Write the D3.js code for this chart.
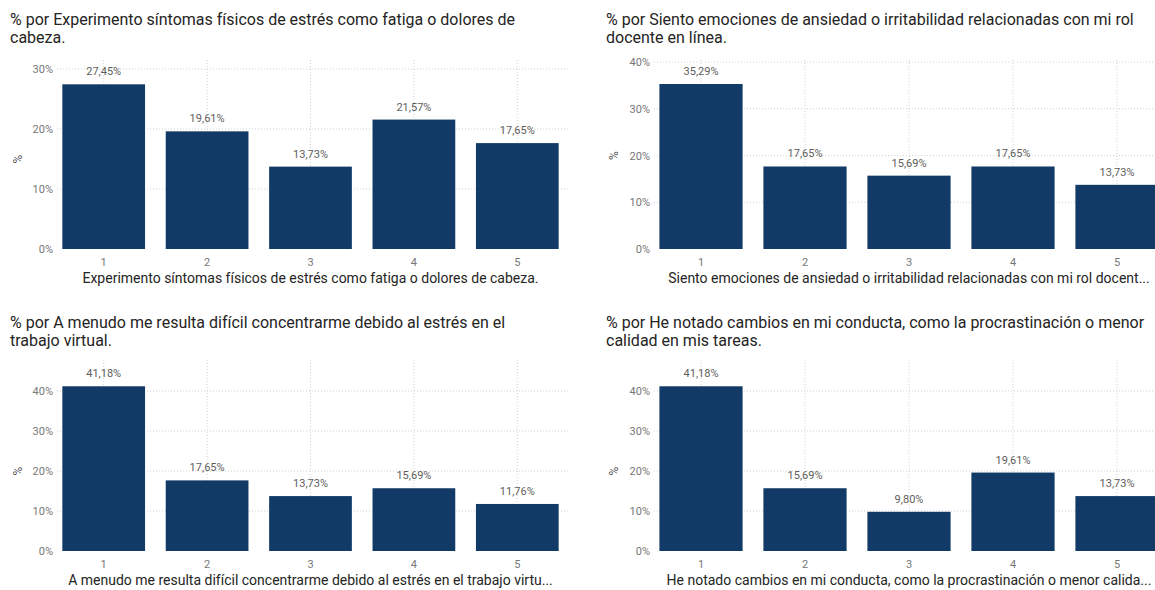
<!DOCTYPE html>
<html>
<head>
<meta charset="utf-8">
<script src="https://cdn.jsdelivr.net/npm/d3@7"></script>
<style>
  body { margin: 0; background: #fff; }
  text { font-family: Roboto, "DejaVu Sans", sans-serif; }
</style>
</head>
<body>
<div id="chart-area"></div>
<script>
// survey answers 1..5, share of respondents in %
const categories = ["1", "2", "3", "4", "5"]

const titleLines1 = ["% por Experimento síntomas físicos de estrés como fatiga o dolores de", "cabeza."]
const titleLines2 = ["% por Siento emociones de ansiedad o irritabilidad relacionadas con mi rol", "docente en línea."]
const titleLines3 = ["% por A menudo me resulta difícil concentrarme debido al estrés en el", "trabajo virtual."]
const titleLines4 = ["% por He notado cambios en mi conducta, como la procrastinación o menor", "calidad en mis tareas."]

const axisTitle1 = "Experimento síntomas físicos de estrés como fatiga o dolores de cabeza."
const axisTitle2 = "Siento emociones de ansiedad o irritabilidad relacionadas con mi rol docente en línea."
const axisTitle3 = "A menudo me resulta difícil concentrarme debido al estrés en el trabajo virtual."
const axisTitle4 = "He notado cambios en mi conducta, como la procrastinación o menor calidad en mis tareas."

const values1 = [27.45, 19.61, 13.73, 21.57, 17.65]
const values2 = [35.29, 17.65, 15.69, 17.65, 13.73]
const values3 = [41.18, 17.65, 13.73, 15.69, 11.76]
const values4 = [41.18, 15.69, 9.80, 19.61, 13.73]

const yTicks1 = [0, 10, 20, 30]
const yTicks2 = [0, 10, 20, 30, 40]
const yTicks3 = [0, 10, 20, 30, 40]
const yTicks4 = [0, 10, 20, 30, 40]

const BAR = "#123a66"
const GRID = "#d0d0d0"

const svg = d3.select("#chart-area")
    .append("svg")
    .attr("width", 1155)
    .attr("height", 590)

const fmt = v => d3.format(".2f")(v).replace(".", ",") + "%"

const panels = [
    { title: titleLines1, axisTitle: axisTitle1, values: values1, ticks: yTicks1,
      x0: 52, x1: 569, top: 60, y0: 249, yTopPx: 69, titleX: 10, titleY: 25 },
    { title: titleLines2, axisTitle: axisTitle2, values: values2, ticks: yTicks2,
      x0: 649, x1: 1169, top: 60, y0: 249, yTopPx: 62, titleX: 606, titleY: 25 },
    { title: titleLines3, axisTitle: axisTitle3, values: values3, ticks: yTicks3,
      x0: 52, x1: 569, top: 360, y0: 551, yTopPx: 391, titleX: 10, titleY: 328 },
    { title: titleLines4, axisTitle: axisTitle4, values: values4, ticks: yTicks4,
      x0: 649, x1: 1169, top: 360, y0: 551, yTopPx: 391, titleX: 606, titleY: 328 }
]

panels.forEach(p => drawPanel(p))

function drawPanel(p) {
    const g = svg.append("g")
    const data = categories.map((c, i) => ({ cat: c, value: p.values[i] }))

    // title, two lines
    g.append("text")
        .attr("x", p.titleX)
        .attr("y", p.titleY)
        .attr("font-size", 16)
        .attr("fill", "#252423")
        .selectAll("tspan")
        .data(p.title)
        .enter().append("tspan")
        .attr("x", p.titleX)
        .attr("dy", (d, i) => i === 0 ? 0 : 18)
        .text(d => d)

    const x = d3.scaleBand()
        .domain(categories)
        .range([p.x0, p.x1])
        .paddingInner(0.2)
        .paddingOuter(0.1)

    const yMax = p.ticks[p.ticks.length - 1]
    const y = d3.scaleLinear()
        .domain([0, yMax])
        .range([p.y0, p.yTopPx])

    // gridlines (dotted)
    g.append("g").selectAll("line.h")
        .data(p.ticks.filter(t => t > 0))
        .enter().append("line")
        .attr("x1", p.x0 + 5)
        .attr("x2", p.x1)
        .attr("y1", d => y(d))
        .attr("y2", d => y(d))
        .attr("stroke", GRID)
        .attr("stroke-dasharray", "1,2")

    g.append("g").selectAll("line.v")
        .data(categories)
        .enter().append("line")
        .attr("x1", d => x(d) + x.bandwidth() / 2)
        .attr("x2", d => x(d) + x.bandwidth() / 2)
        .attr("y1", p.top)
        .attr("y2", p.y0)
        .attr("stroke", GRID)
        .attr("stroke-dasharray", "1,2")

    // y axis
    const yAxisCall = d3.axisLeft(y)
        .tickValues(p.ticks)
        .tickSize(0)
        .tickPadding(0)
        .tickFormat(d => d + "%")
    const ya = g.append("g")
        .attr("class", "y axis")
        .attr("transform", `translate(${p.x0 + 1}, 0)`)
        .call(yAxisCall)
    ya.select(".domain").remove()
    ya.selectAll("text")
        .attr("font-size", 11)
        .attr("font-family", "Roboto, sans-serif")
        .attr("fill", "#777")

    g.append("text")
        .attr("transform", `translate(${p.titleX + 8}, ${(p.y0 + p.yTopPx) / 2}) rotate(-90)`)
        .attr("text-anchor", "middle")
        .attr("dy", "0.35em")
        .attr("font-size", 12)
        .attr("fill", "#555")
        .text("%")

    // bars
    g.append("g").selectAll("rect")
        .data(data)
        .enter().append("rect")
        .attr("x", d => x(d.cat))
        .attr("y", d => y(d.value))
        .attr("width", x.bandwidth())
        .attr("height", d => p.y0 - y(d.value))
        .attr("fill", BAR)

    // value labels
    g.append("g").selectAll("text")
        .data(data)
        .enter().append("text")
        .attr("x", d => x(d.cat) + x.bandwidth() / 2)
        .attr("y", d => y(d.value) - 9)
        .attr("text-anchor", "middle")
        .attr("font-size", 11)
        .attr("fill", "#605e5c")
        .text(d => fmt(d.value))

    // x axis
    const xAxisCall = d3.axisBottom(x)
        .tickSize(0)
        .tickPadding(9)
    const xa = g.append("g")
        .attr("class", "x axis")
        .attr("transform", `translate(0, ${p.y0})`)
        .call(xAxisCall)
    xa.select(".domain").remove()
    xa.selectAll("text")
        .attr("font-size", 11)
        .attr("font-family", "Roboto, sans-serif")
        .attr("fill", "#777")

    // axis title, truncated to the plot width like the original
    const at = g.append("text")
        .attr("x", (p.x0 + p.x1) / 2)
        .attr("y", p.y0 + 34)
        .attr("text-anchor", "middle")
        .attr("font-size", 14)
        .attr("fill", "#252423")
        .text(p.axisTitle)
    const maxW = 488
    if (at.node().getComputedTextLength() > maxW) {
        let s = p.axisTitle
        while (s.length > 0) {
            s = s.slice(0, -1)
            at.text(s + "...")
            if (at.node().getComputedTextLength() <= maxW) break
        }
    }
}
</script>
</body>
</html>
